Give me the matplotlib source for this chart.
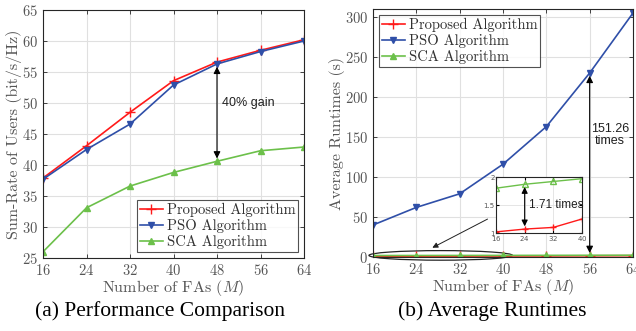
import matplotlib
matplotlib.use("Agg")
import matplotlib.pyplot as plt
from matplotlib.patches import Ellipse

M = [16, 24, 32, 40, 48, 56, 64]
rate_prop = [37.9, 43.1, 48.5, 53.6, 56.6, 58.5, 60.2]
rate_pso = [37.7, 42.5, 46.6, 52.9, 56.3, 58.3, 60.0]
rate_sca = [26.0, 33.1, 36.6, 38.8, 40.6, 42.3, 42.9]

time_prop = [1.02, 1.07, 1.10, 1.25, 1.35, 1.52, 1.65]
time_pso = [40, 62, 79, 116, 163, 230, 305]
time_sca = [1.80, 1.87, 1.92, 1.97, 2.05, 2.12, 2.20]

labels = ["Proposed Algorithm", "PSO Algorithm", "SCA Algorithm"]
c_red = "#ff1a1a"
c_blue = "#2f4fa8"
c_green = "#6cc04a"
tick_c = "#555555"

plt.rcParams["mathtext.fontset"] = "cm"
plt.rcParams["axes.formatter.use_mathtext"] = True
cm_font = "cmr10"

W, H = 636, 331
fig = plt.figure(figsize=(W / 100, H / 100), dpi=100)


def ax_px(x0, x1, ytop, ybot):
    return fig.add_axes([x0 / W, 1 - ybot / H, (x1 - x0) / W, (ybot - ytop) / H])


def style(ax):
    ax.grid(True, color="#e0e0e0", lw=0.8)
    ax.set_axisbelow(True)
    for s in ax.spines.values():
        s.set_color("#262626")
        s.set_linewidth(0.8)
    ax.tick_params(direction="in", colors="#262626", labelcolor=tick_c,
                   labelsize=10.5, length=3, width=0.6, top=True, right=True)
    for lab in ax.get_xticklabels() + ax.get_yticklabels():
        lab.set_fontfamily(cm_font)


def legend(ax, loc):
    leg = ax.legend(loc=loc, prop={"family": cm_font, "size": 10.5}, frameon=True,
                    fancybox=False, edgecolor="#262626", borderpad=0.2, labelspacing=0.15,
                    handlelength=1.6, handletextpad=0.25, borderaxespad=0.4)
    leg.get_frame().set_linewidth(0.8)
    for t in leg.get_texts():
        t.set_color("#303030")
    return leg


# ---------- left
ax1 = ax_px(43, 304, 10, 258)
ax1.plot(M, rate_prop, color=c_red, marker="+", ms=7, lw=1.2, label=labels[0])
ax1.plot(M, rate_pso, color=c_blue, marker="v", ms=5, lw=1.2, label=labels[1])
ax1.plot(M, rate_sca, color=c_green, marker="^", ms=5, lw=1.2, label=labels[2])
ax1.set_xlim(16, 64)
ax1.set_ylim(25, 65)
ax1.set_xticks(M)
ax1.set_yticks(range(25, 66, 5))
style(ax1)
ax1.set_xlabel("Number of FAs ($M$)", fontfamily=cm_font, fontsize=11.5, color=tick_c, labelpad=0)
ax1.set_ylabel("Sum-Rate of Users (bit/s/Hz)", fontfamily=cm_font, fontsize=11.5, color=tick_c, labelpad=0)
legend(ax1, "lower right")
ax1.annotate("", xy=(48, rate_sca[4]), xytext=(48, rate_pso[4]),
             arrowprops=dict(arrowstyle="<|-|>", color="black", lw=0.8, mutation_scale=10))
ax1.text(48.9, 50, "40% gain", fontfamily="Liberation Sans", fontsize=9, va="center", color="#202020")

# ---------- right
ax2 = ax_px(373, 633, 9, 257)
ax2.plot(M, time_prop, color=c_red, marker="+", ms=7, lw=1.2, label=labels[0])
ax2.plot(M, time_pso, color=c_blue, marker="v", ms=5, lw=1.2, label=labels[1])
ax2.plot(M, time_sca, color=c_green, marker="^", ms=5, lw=1.2, label=labels[2])
ax2.set_xlim(16, 64)
ax2.set_ylim(0, 310)
ax2.set_xticks(M)
ax2.set_yticks(range(0, 301, 50))
style(ax2)
ax2.set_xlabel("Number of FAs ($M$)", fontfamily=cm_font, fontsize=11.5, color=tick_c, labelpad=0)
ax2.set_ylabel("Average Runtimes (s)", fontfamily=cm_font, fontsize=11.5, color=tick_c, labelpad=0)
legend(ax2, "upper left")
ax2.annotate("", xy=(56, time_prop[5]), xytext=(56, time_pso[5]),
             arrowprops=dict(arrowstyle="<|-|>", color="black", lw=0.8, mutation_scale=10))
ax2.text(59.7, 152, "151.26\ntimes", fontfamily="Liberation Sans", fontsize=9, ha="center",
         va="center", color="#202020", linespacing=1.0)
ax2.add_patch(Ellipse((28.5, 2), 26.5, 12, fill=False, edgecolor="#262626", lw=0.9, clip_on=False))
ax2.annotate("", xy=(26.5, 10), xytext=(37.6, 49),
             arrowprops=dict(arrowstyle="-|>", color="#202020", lw=0.7, mutation_scale=8))

# ---------- inset
axi = ax_px(496, 582, 177, 233)
axi.set_facecolor("white")
axi.plot(M[:4], time_prop[:4], color=c_red, marker="+", ms=5, lw=1.0)
axi.plot(M[:4], time_sca[:4], color=c_green, marker="^", ms=4, lw=1.0, mfc="none")
axi.set_xlim(16, 40)
axi.set_ylim(1, 2)
axi.set_xticks([16, 24, 32, 40])
axi.set_yticks([1, 1.5, 2])
axi.set_yticklabels(["1", "1.5", "2"])
axi.grid(True, color="#e0e0e0", lw=0.6)
for s in axi.spines.values():
    s.set_color("#262626")
    s.set_linewidth(0.8)
axi.tick_params(direction="in", labelsize=5, labelcolor=tick_c, length=2, pad=1, top=True, right=True)
axi.annotate("", xy=(24, time_prop[1]), xytext=(24, time_sca[1]),
             arrowprops=dict(arrowstyle="<|-|>", color="black", lw=0.8, mutation_scale=9))
axi.text(25.3, 1.5, "1.71 times", fontfamily="Liberation Sans", fontsize=8.5, va="center", color="#202020")

# ---------- captions
fig.text(160 / W, 1 - 311 / H, "(a) Performance Comparison", fontfamily="Liberation Serif",
         fontsize=15.5, ha="center", va="center")
fig.text(492 / W, 1 - 311 / H, "(b) Average Runtimes", fontfamily="Liberation Serif",
         fontsize=15.5, ha="center", va="center")

fig.savefig("out.png", dpi=100)
